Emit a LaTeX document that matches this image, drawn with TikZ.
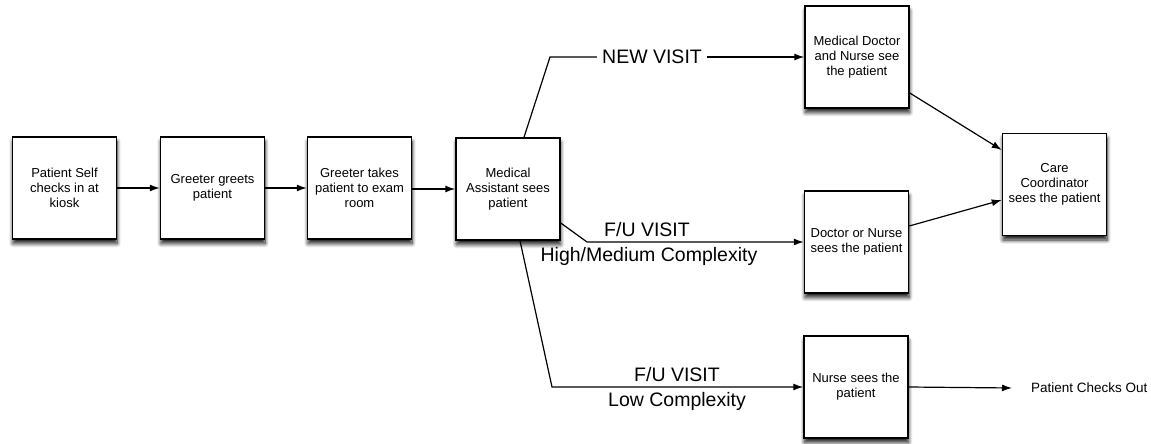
\documentclass[tikz,border=0pt]{standalone}
\usepackage{fontspec}
\setmainfont{Liberation Sans}
\usetikzlibrary{arrows.meta,shadows.blur,calc}
\begin{document}
\begin{tikzpicture}[x=1pt,y=-1pt,
  stepbox/.style={draw=black, line width=1.5pt, fill=white, minimum width=104pt,
    minimum height=102pt, align=center, inner sep=0pt,
    font=\fontsize{13}{15}\selectfont,
    blur shadow={shadow xshift=0.5pt, shadow yshift=-4.5pt, shadow blur radius=4pt,
      shadow blur steps=8, shadow opacity=90}},
  flow/.style={line width=1.2pt, -{Latex[length=10pt,width=7pt]}},
  link/.style={line width=1.2pt},
  biglabel/.style={font=\fontsize{19.5}{22}\selectfont, inner sep=0pt},
  endlabel/.style={font=\fontsize{13.5}{15}\selectfont, inner sep=0pt, anchor=west}]
\useasboundingbox (0,0) rectangle (1151,444);

% main chain of steps
\node[stepbox] (b1) at (64.5,188) {Patient Self\\checks in at\\kiosk};
\node[stepbox] (b2) at (212.5,188) {Greeter greets\\patient};
\node[stepbox] (b3) at (359.5,188) {Greeter takes\\patient to exam\\room};
\node[stepbox] (b4) at (508,189) {Medical\\Assistant sees\\patient};

% branches
\node[stepbox] (b5) at (857,57) {Medical Doctor\\and Nurse see\\the patient};
\node[stepbox] (b6) at (856.5,242) {Doctor or Nurse\\sees the patient};
\node[stepbox] (b7) at (856,387) {Nurse sees the\\patient};
\node[stepbox] (b8) at (1054.5,184.5) {Care\\Coordinator\\sees the patient};
\node[endlabel] (out) at (1031,388) {Patient Checks Out};

\draw[flow] (b1.east) -- (b2.west);
\draw[flow] (b2.east) -- (b3.west);
\draw[flow] (b3.east |- b4.west) -- (b4.west);

% new visit
\node[biglabel] (nv) at (652,57) {NEW VISIT};
\coordinate (nvbend) at (550,57);
\draw[link] ($(b4.north)+(16,0)$) -- (nvbend) -- ($(nv.west)+(-5,0)$);
\draw[flow] ($(nv.east)+(5,0)$) -- (b5.west);

% follow-up, high/medium complexity
\coordinate (hmbend) at (587,242);
\draw[flow] ($(b4.east)+(0,34)$) -- (hmbend) -- (b6.west);
\node[biglabel] (hm1) at (647,230) {F/U VISIT};
\node[biglabel] (hm2) at (649,256) {High/Medium Complexity};

% follow-up, low complexity
\coordinate (lobend) at (552,387);
\draw[flow] ($(b4.south)+(12,0)$) -- (lobend) -- (b7.west);
\node[biglabel] (lo1) at (677,375) {F/U VISIT};
\node[biglabel] (lo2) at (677,401) {Low Complexity};

% to care coordinator and checkout
\draw[flow] ($(b5.east)+(0,36)$) -- ($(b8.west)+(0,-34.5)$);
\draw[flow] ($(b6.east)+(0,-16)$) -- ($(b8.west)+(0,15.5)$);
\draw[flow] (b7.east) -- ($(out.west)+(-19,0)$);
\end{tikzpicture}
\end{document}
